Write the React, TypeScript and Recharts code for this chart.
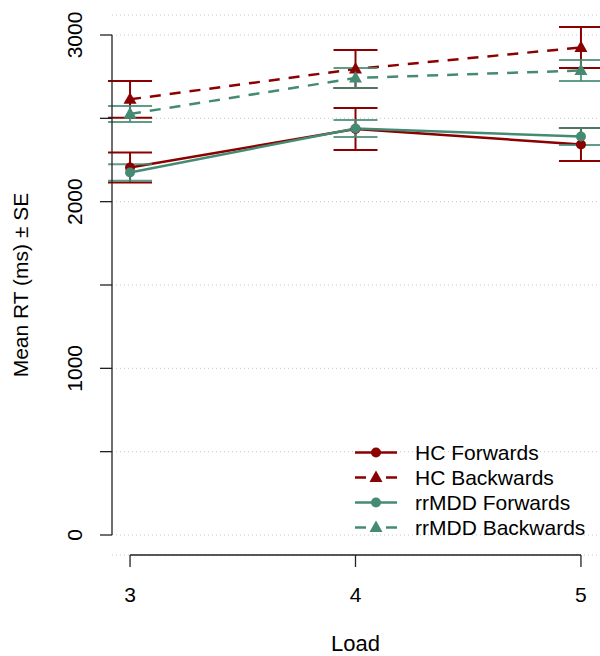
import React from 'react'
import {
  ComposedChart,
  Line,
  XAxis,
  YAxis,
  CartesianGrid,
  ErrorBar,
  Legend,
} from 'recharts'

// working-memory load levels
const LOADS = [3, 4, 5]

// mean RT (ms) and standard errors
const HC_FWD = [2205, 2436, 2343]
const HC_FWD_SE = [90, 126, 99]
const HC_BWD = [2614, 2796, 2925]
const HC_BWD_SE = [110, 114, 123]
const MDD_FWD = [2175, 2439, 2391]
const MDD_FWD_SE = [50, 51, 51]
const MDD_BWD = [2526, 2742, 2787]
const MDD_BWD_SE = [48, 60, 63]

const Y_TICKS = [0, 500, 1000, 1500, 2000, 2500, 3000]
const Y_LABELED = [0, 1000, 2000, 3000]
const X_DOMAIN: [number, number] = [2.92, 5.08]
const Y_DOMAIN: [number, number] = [-120, 3120]

const RED = '#8B0000'
const GREEN = '#458B74'
const AXIS = '#222'
const FONT = '"Liberation Sans", Arial, Helvetica, sans-serif'

type Shape = 'circle' | 'triangle'

interface Serie {
  key: string
  name: string
  color: string
  dashed: boolean
  shape: Shape
  values: number[]
  se: number[]
  barOpacity: number
}

const SERIES: Serie[] = [
  { key: 'hcFwd', name: 'HC Forwards', color: RED, dashed: false, shape: 'circle', values: HC_FWD, se: HC_FWD_SE, barOpacity: 1 },
  { key: 'hcBwd', name: 'HC Backwards', color: RED, dashed: true, shape: 'triangle', values: HC_BWD, se: HC_BWD_SE, barOpacity: 1 },
  { key: 'mddFwd', name: 'rrMDD Forwards', color: GREEN, dashed: false, shape: 'circle', values: MDD_FWD, se: MDD_FWD_SE, barOpacity: 0.85 },
  { key: 'mddBwd', name: 'rrMDD Backwards', color: GREEN, dashed: true, shape: 'triangle', values: MDD_BWD, se: MDD_BWD_SE, barOpacity: 0.85 },
]

const data = LOADS.map((load, i) => {
  const row: Record<string, number> = { load }
  SERIES.forEach(s => {
    row[s.key] = s.values[i]
    row[s.key + 'Se'] = s.se[i]
  })
  return row
})

function Marker({ cx, cy, color, shape }: { cx: number; cy: number; color: string; shape: Shape }) {
  if (shape === 'circle') return <circle cx={cx} cy={cy} r={5} fill={color} />
  return (
    <polygon
      points={`${cx},${cy - 7} ${cx - 6.5},${cy + 4.5} ${cx + 6.5},${cy + 4.5}`}
      fill={color}
    />
  )
}

// only every other tick gets a label, rotated like base R's las=0
function YTick({ x, y, payload }: any) {
  if (!Y_LABELED.includes(payload.value)) return <g />
  return (
    <text
      x={x}
      y={y}
      transform={`rotate(-90, ${x}, ${y})`}
      textAnchor="middle"
      fill="#000"
      fontSize={21}
      fontFamily={FONT}
    >
      {payload.value}
    </text>
  )
}

function LegendBox() {
  return (
    <div style={{ fontFamily: FONT, fontSize: 21, color: '#000' }}>
      {SERIES.map(s => (
        <div key={s.key} style={{ display: 'flex', alignItems: 'center', height: 25, lineHeight: '25px' }}>
          <svg width={60} height={25} style={{ flex: 'none' }}>
            {s.dashed ? (
              <>
                <line x1={0} y1={12.5} x2={11} y2={12.5} stroke={s.color} strokeWidth={2.5} />
                <line x1={31} y1={12.5} x2={42} y2={12.5} stroke={s.color} strokeWidth={2.5} />
              </>
            ) : (
              <line x1={0} y1={12.5} x2={42} y2={12.5} stroke={s.color} strokeWidth={2.5} />
            )}
            <Marker cx={21} cy={12.5} color={s.color} shape={s.shape} />
          </svg>
          <span style={{ whiteSpace: 'nowrap' }}>{s.name}</span>
        </div>
      ))}
    </div>
  )
}

export default function App() {
  return (
    <div style={{ position: 'absolute', left: 0, top: 0, width: 600, height: 656, background: '#fff' }}>
      <ComposedChart
        width={600}
        height={656}
        data={data}
        margin={{ top: 15, right: 1, bottom: 0, left: 0 }}
      >
        <CartesianGrid vertical={false} stroke="#c8c8c8" strokeDasharray="1 3" />
        <XAxis
          type="number"
          dataKey="load"
          domain={X_DOMAIN}
          ticks={LOADS}
          allowDataOverflow
          height={101}
          // base R draws the axis only between the first and last tick
          axisLine={{ stroke: AXIS, strokeWidth: 1.3, strokeDasharray: '0 18 451 1000' }}
          tickSize={12}
          tickMargin={20}
          tickLine={{ stroke: AXIS, strokeWidth: 1.3 }}
          tick={{ fill: '#000', fontSize: 21, fontFamily: FONT }}
          label={{
            content: () => (
              <text x={355.5} y={651} textAnchor="middle" fill="#000" fontSize={22} fontFamily={FONT}>
                Load
              </text>
            ),
          }}
        />
        <YAxis
          type="number"
          domain={Y_DOMAIN}
          ticks={Y_TICKS}
          interval={0}
          allowDataOverflow
          width={112}
          axisLine={{ stroke: AXIS, strokeWidth: 1.3, strokeDasharray: '0 20 500 1000' }}
          tickSize={12}
          tickMargin={18}
          tickLine={{ stroke: AXIS, strokeWidth: 1.3 }}
          tick={<YTick />}
          label={{
            content: () => (
              <text
                x={28}
                y={285}
                transform="rotate(-90, 28, 285)"
                textAnchor="middle"
                fill="#000"
                fontSize={21}
                fontFamily={FONT}
              >
                Mean RT (ms) ± SE
              </text>
            ),
          }}
        />
        {SERIES.map(s => (
          <Line
            key={s.key}
            type="linear"
            dataKey={s.key}
            name={s.name}
            stroke={s.color}
            strokeWidth={2.5}
            strokeDasharray={s.dashed ? '11 9' : undefined}
            isAnimationActive={false}
            activeDot={false}
            dot={(p: any) => (
              <Marker key={`${s.key}-${p.index}`} cx={p.cx} cy={p.cy} color={s.color} shape={s.shape} />
            )}
          >
            <ErrorBar
              dataKey={s.key + 'Se'}
              width={22}
              strokeWidth={2}
              stroke={s.color}
              strokeOpacity={s.barOpacity}
              direction="y"
            />
          </Line>
        ))}
        <Legend
          layout="vertical"
          align="center"
          verticalAlign="middle"
          wrapperStyle={{ left: 355, top: 439.5, width: 245 }}
          content={() => <LegendBox />}
        />
      </ComposedChart>
    </div>
  )
}
